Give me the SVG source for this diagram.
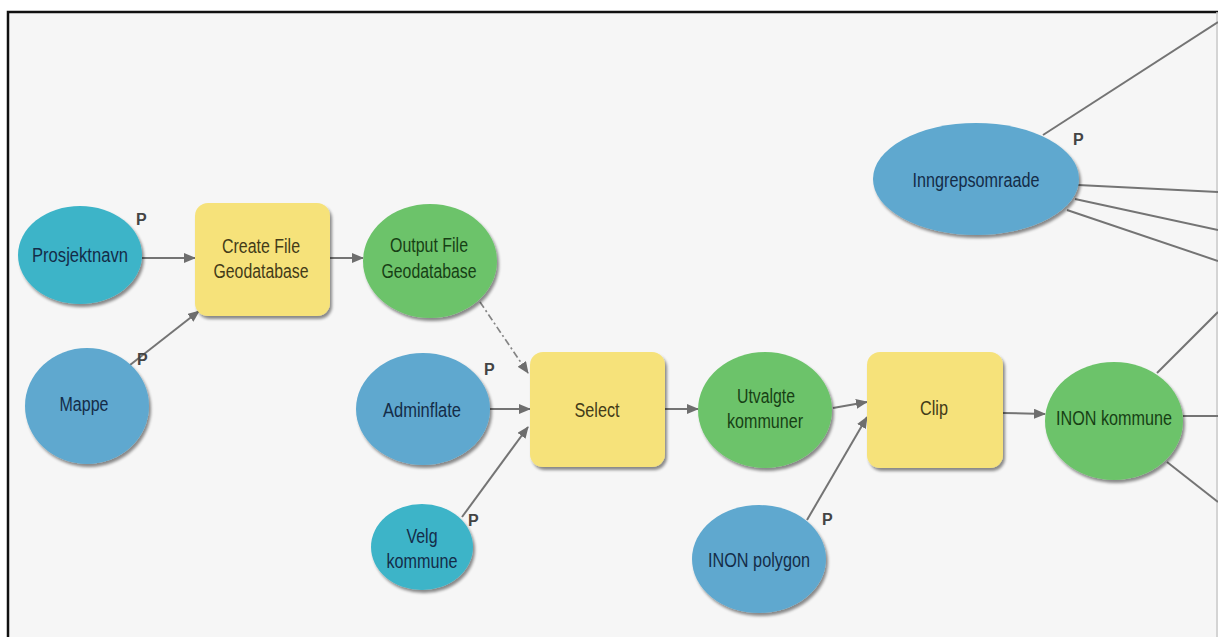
<svg xmlns="http://www.w3.org/2000/svg" width="1218" height="637" viewBox="0 0 1218 637">
  <defs>
    <marker id="arrow" markerUnits="userSpaceOnUse" markerWidth="12" markerHeight="10" refX="11" refY="5" orient="auto">
      <path d="M0,0 L12,5 L0,10 z" fill="#6e6e6e"/>
    </marker>
    <filter id="shadow" x="-10%" y="-10%" width="125%" height="130%">
      <feGaussianBlur in="SourceAlpha" stdDeviation="1.5"/>
      <feOffset dx="2" dy="3" result="off"/>
      <feComponentTransfer><feFuncA type="linear" slope="0.45"/></feComponentTransfer>
      <feMerge><feMergeNode/><feMergeNode in="SourceGraphic"/></feMerge>
    </filter>
    <style>
      .teal { fill: #3db4c8; }
      .blue { fill: #5ea8cf; }
      .green { fill: #6cc36a; }
      .tool { fill: #f6e27a; }
      .lbl { font-family: "Liberation Sans", Arial, sans-serif; font-size: 20px; text-anchor: middle; }
      .lblB { fill: #142c48; }
      .lblG { fill: #173f15; }
      .lblY { fill: #433b18; }
      .p { font-family: "Liberation Sans", Arial, sans-serif; font-size: 16px; font-weight: bold; fill: #444; }
      .conn { stroke: #747474; stroke-width: 2; fill: none; }
      .dash { stroke-dasharray: 7 3 2 3; stroke: #858585; stroke-width: 1.7; }
    </style>
  </defs>

  <!-- page and frame -->
  <rect x="0" y="0" width="1218" height="637" fill="#ffffff"/>
  <rect x="7" y="11" width="1211" height="626" fill="#f6f6f6"/>
  <path d="M8,637 V12 H1218" stroke="#111" stroke-width="2.5" fill="none"/>
  <line x1="1217" y1="12" x2="1217" y2="637" stroke="#c8c8c8" stroke-width="1.5"/>

  <!-- connectors -->
  <g id="connectors">
    <line class="conn" x1="142" y1="258" x2="195" y2="258" marker-end="url(#arrow)"/>
    <line class="conn" x1="130" y1="365" x2="199" y2="311" marker-end="url(#arrow)"/>
    <line class="conn" x1="330" y1="258" x2="363" y2="258" marker-end="url(#arrow)"/>
    <line class="conn dash" x1="480" y1="302" x2="528" y2="373" marker-end="url(#arrow)"/>
    <line class="conn" x1="490" y1="409" x2="530" y2="409" marker-end="url(#arrow)"/>
    <line class="conn" x1="462" y1="517" x2="528" y2="427" marker-end="url(#arrow)"/>
    <line class="conn" x1="665" y1="409" x2="698" y2="409" marker-end="url(#arrow)"/>
    <line class="conn" x1="833" y1="408" x2="867" y2="402" marker-end="url(#arrow)"/>
    <line class="conn" x1="807" y1="520" x2="867" y2="417" marker-end="url(#arrow)"/>
    <line class="conn" x1="1003" y1="413" x2="1045" y2="414" marker-end="url(#arrow)"/>
    <!-- outgoing lines to the right -->
    <line class="conn" x1="1157" y1="373" x2="1218" y2="312"/>
    <line class="conn" x1="1183" y1="416" x2="1218" y2="416"/>
    <line class="conn" x1="1167" y1="462" x2="1218" y2="502"/>
    <line class="conn" x1="1043" y1="135" x2="1218" y2="22"/>
    <line class="conn" x1="1078" y1="185" x2="1218" y2="192"/>
    <line class="conn" x1="1075" y1="199" x2="1218" y2="230"/>
    <line class="conn" x1="1067" y1="210" x2="1218" y2="261"/>
  </g>

  <!-- nodes -->
  <g id="prosjektnavn">
    <ellipse class="teal" cx="80" cy="255" rx="62" ry="49" filter="url(#shadow)"/>
    <text class="lbl lblB" x="80" y="262" textLength="96" lengthAdjust="spacingAndGlyphs">Prosjektnavn</text>
    <text class="p" x="136" y="225">P</text>
  </g>

  <g id="mappe">
    <ellipse class="blue" cx="87" cy="406" rx="62" ry="58" filter="url(#shadow)"/>
    <text class="lbl lblB" x="84" y="411" textLength="49" lengthAdjust="spacingAndGlyphs">Mappe</text>
    <text class="p" x="137" y="365">P</text>
  </g>

  <g id="create-file-gdb">
    <rect class="tool" x="195" y="203" width="135" height="113" rx="13" filter="url(#shadow)"/>
    <text class="lbl lblY" x="261" y="253" textLength="78" lengthAdjust="spacingAndGlyphs">Create File</text>
    <text class="lbl lblY" x="261" y="278" textLength="95" lengthAdjust="spacingAndGlyphs">Geodatabase</text>
  </g>

  <g id="output-file-gdb">
    <ellipse class="green" cx="430" cy="261" rx="67" ry="57" filter="url(#shadow)"/>
    <text class="lbl lblG" x="429" y="252" textLength="78" lengthAdjust="spacingAndGlyphs">Output File</text>
    <text class="lbl lblG" x="429" y="278" textLength="95" lengthAdjust="spacingAndGlyphs">Geodatabase</text>
  </g>

  <g id="adminflate">
    <ellipse class="blue" cx="423" cy="409" rx="67" ry="56" filter="url(#shadow)"/>
    <text class="lbl lblB" x="422" y="417" textLength="78" lengthAdjust="spacingAndGlyphs">Adminflate</text>
    <text class="p" x="484" y="375">P</text>
  </g>

  <g id="velg-kommune">
    <ellipse class="teal" cx="422" cy="547" rx="51" ry="43" filter="url(#shadow)"/>
    <text class="lbl lblB" x="422" y="543" textLength="31" lengthAdjust="spacingAndGlyphs">Velg</text>
    <text class="lbl lblB" x="422" y="568" textLength="71" lengthAdjust="spacingAndGlyphs">kommune</text>
    <text class="p" x="468" y="526">P</text>
  </g>

  <g id="select">
    <rect class="tool" x="530" y="352" width="135" height="115" rx="13" filter="url(#shadow)"/>
    <text class="lbl lblY" x="597" y="417" textLength="45" lengthAdjust="spacingAndGlyphs">Select</text>
  </g>

  <g id="utvalgte-kommuner">
    <ellipse class="green" cx="765" cy="410" rx="67" ry="58" filter="url(#shadow)"/>
    <text class="lbl lblG" x="766" y="403" textLength="58" lengthAdjust="spacingAndGlyphs">Utvalgte</text>
    <text class="lbl lblG" x="765" y="428" textLength="76" lengthAdjust="spacingAndGlyphs">kommuner</text>
  </g>

  <g id="inon-polygon">
    <ellipse class="blue" cx="759" cy="559" rx="67" ry="54" filter="url(#shadow)"/>
    <text class="lbl lblB" x="759" y="567" textLength="102" lengthAdjust="spacingAndGlyphs">INON polygon</text>
    <text class="p" x="822" y="525">P</text>
  </g>

  <g id="clip">
    <rect class="tool" x="867" y="352" width="136" height="116" rx="13" filter="url(#shadow)"/>
    <text class="lbl lblY" x="934" y="415" textLength="28" lengthAdjust="spacingAndGlyphs">Clip</text>
  </g>

  <g id="inon-kommune">
    <ellipse class="green" cx="1114" cy="421" rx="69" ry="59" filter="url(#shadow)"/>
    <text class="lbl lblG" x="1114" y="425" textLength="116" lengthAdjust="spacingAndGlyphs">INON kommune</text>
  </g>

  <g id="inngrepsomraade">
    <ellipse class="blue" cx="976" cy="179" rx="103" ry="56" filter="url(#shadow)"/>
    <text class="lbl lblB" x="976" y="187" textLength="127" lengthAdjust="spacingAndGlyphs">Inngrepsomraade</text>
    <text class="p" x="1073" y="145">P</text>
  </g>
</svg>
